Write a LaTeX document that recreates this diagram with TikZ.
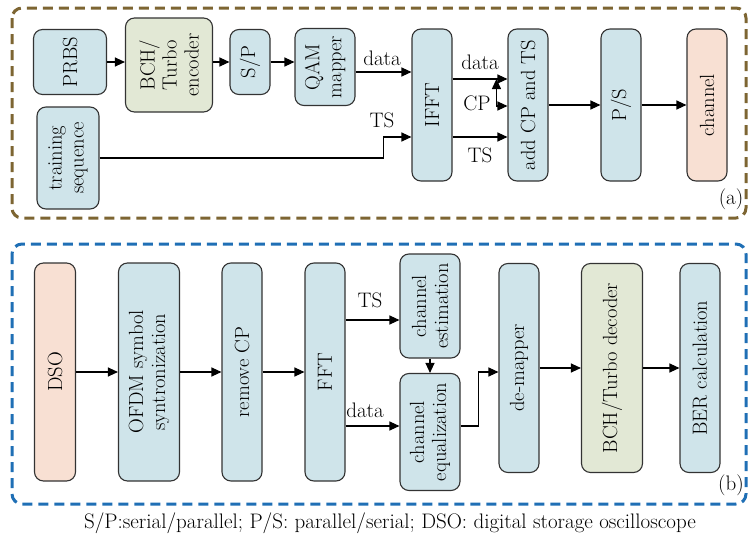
\documentclass[tikz,border=0pt]{standalone}
\usepackage{fontspec}
\usetikzlibrary{arrows.meta}
\definecolor{boxblue}{HTML}{CFE4EA}
\definecolor{boxgreen}{HTML}{E2E8D5}
\definecolor{boxpink}{HTML}{F8E0D3}
\definecolor{brownline}{HTML}{7D6532}
\definecolor{blueline}{HTML}{1F6FB5}
\tikzset{
  blk/.style={draw=black!80, line width=1.1pt, fill=boxblue, rounded corners=9pt,
    rotate=90, align=center, inner sep=2pt, font=\fontsize{20.5}{22}\selectfont},
  sz/.style 2 args={minimum height=#1, minimum width=#2},
  lbl/.style={font=\fontsize{21}{22}\selectfont},
  arr/.style={line width=1.1pt, -{Triangle[length=10pt,width=9pt]}},
  frame/.style={line width=3pt, rounded corners=10pt, dash pattern=on 10pt off 6pt}
}
\begin{document}
\begin{tikzpicture}[x=1pt,y=-1pt]
      \useasboundingbox (0,0) rectangle (750,538);
      \draw[frame, brownline] (12,8) rectangle (746,218);
      \draw[frame, blueline] (12,244) rectangle (746,504);
      \draw
        (70,62) node[blk, sz={73pt}{65pt}] (prbs){PRBS}
        (169,65) node[blk, sz={87pt}{94pt}, fill=boxgreen] (enc){BCH/\\Turbo\\encoder}
        (250,62) node[blk, sz={40pt}{65pt}] (sp){S/P}
        (325,67) node[blk, sz={60pt}{77pt}] (qam){QAM\\mapper}
        (68,158) node[blk, sz={62pt}{102pt}] (train){training\\sequence}
        (432,105) node[blk, sz={40pt}{152pt}] (ifft){IFFT}
        (528,105) node[blk, sz={40pt}{152pt}] (addcp){add CP and TS}
        (621,105) node[blk, sz={40pt}{152pt}] (ps){P/S}
        (707,105) node[blk, sz={40pt}{152pt}, fill=boxpink] (chan){channel};
      \draw
        (55,372) node[blk, sz={41pt}{218pt}, fill=boxpink] (dso){DSO}
        (149,372) node[blk, sz={61pt}{218pt}] (sync){OFDM symbol\\syntronization}
        (242,372) node[blk, sz={40pt}{218pt}] (rmcp){remove CP}
        (325,372) node[blk, sz={40pt}{218pt}] (fft){FFT}
        (430,306) node[blk, sz={60pt}{104pt}] (est){channel\\estimation}
        (430,432) node[blk, sz={60pt}{117pt}] (eq){channel\\equalization}
        (519,368) node[blk, sz={40pt}{209pt}] (demap){de-mapper}
        (612,368) node[blk, sz={61pt}{209pt}, fill=boxgreen] (dec){BCH/Turbo decoder}
        (700,368) node[blk, sz={40pt}{209pt}] (ber){BER calculation};
      \begin{scope}[arr]
        \draw (prbs.south) -- (prbs.south -| enc.north);
        \draw (sp.north -| enc.south) -- (sp.north);
        \draw (sp.south) -- (sp.south -| qam.north);
        \draw (qam.south |- 0,72) -- (ifft.north |- 0,72);
        \draw (train.south) -| ([xshift=-28pt]ifft.north |- 0,137) -- (ifft.north |- 0,137);
        \draw (ifft.south |- 0,79) -- (addcp.north |- 0,79);
        \draw (addcp.north |- 0,79) ++(-11pt,0) coordinate (cpsplit);
        \draw (cpsplit) |- (addcp.north |- 0,106);
        \draw (ifft.south |- 0,137) -- (addcp.north |- 0,137);
        \draw (addcp.south) -- (ps.north);
        \draw (ps.south) -- (chan.north);
        \draw (dso.south) -- (sync.north);
        \draw (sync.south) -- (rmcp.north);
        \draw (rmcp.south) -- (fft.north);
        \draw (fft.south |- 0,320) -- (est.north |- 0,320);
        \draw (fft.south |- 0,426) -- (eq.north |- 0,426);
        \draw (est.west) -- (eq.east);
        \draw (eq.south |- 0,426) -| ([xshift=-20pt]demap.north |- 0,372) -- (demap.north |- 0,372);
        \draw (demap.south) -- (dec.north);
        \draw (dec.south) -- (ber.north);
      \end{scope}
      \node[lbl] (ldata1) at (382,58) {data};
      \node[lbl] (lts1) at (382,120) {TS};
      \node[lbl] (ldata2) at (480,62) {data};
      \node[lbl] (lcp) at (477,103) {CP};
      \node[lbl] (lts2) at (480,155) {TS};
      \node[lbl] (lts3) at (370,300) {TS};
      \node[lbl] (ldata3) at (365,410) {data};
      \node[lbl] (la) at (731,199) {(a)};
      \node[lbl] (lb) at (731,485) {(b)};
      \node[lbl] (caption) at (390,523) {S/P:serial/parallel; P/S: parallel/serial; DSO: digital storage oscilloscope};
    \end{tikzpicture}
\end{document}
